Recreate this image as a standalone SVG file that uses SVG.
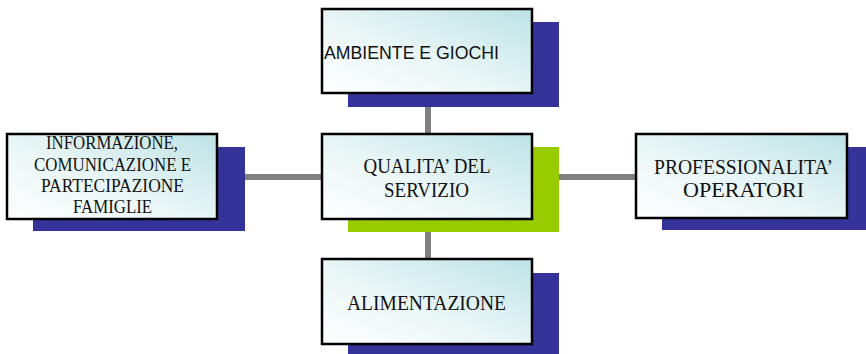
<svg xmlns="http://www.w3.org/2000/svg" width="866" height="354" viewBox="0 0 866 354">
<defs>
<linearGradient id="boxfill" x1="0" y1="1" x2="1" y2="0">
<stop offset="0" stop-color="#ffffff"/>
<stop offset="0.45" stop-color="#eaf6f7"/>
<stop offset="1" stop-color="#bde2e5"/>
</linearGradient>
<style>
.box{fill:url(#boxfill);stroke:#000;stroke-width:2.5}
.sh{fill:#333399}
.shg{fill:#99cc00}
.conn{stroke:#808080;stroke-width:6;fill:none}
.t{font-family:"Liberation Serif","Times New Roman",serif;font-size:22px;fill:#111;text-anchor:middle}
.tr{font-family:"Liberation Serif","Times New Roman",serif;font-size:20px;fill:#111;text-anchor:middle}
.ts{font-family:"Liberation Serif","Times New Roman",serif;font-size:18.5px;fill:#111;text-anchor:middle}
.tsans{font-family:"Liberation Sans",Arial,sans-serif;font-size:17.6px;fill:#111}
</style>
</defs>
<rect width="866" height="354" fill="#ffffff"/>
<g id="connectors">
<line class="conn" x1="428" y1="92" x2="428" y2="260"/>
<line class="conn" x1="217" y1="177" x2="637" y2="177"/>
</g>
<g id="node-ambiente">
<rect class="sh" x="348" y="22" width="211" height="85"/>
<rect class="box" x="322" y="9" width="210" height="84"/>
<text class="tsans" x="324" y="59" textLength="175" lengthAdjust="spacingAndGlyphs">AMBIENTE E GIOCHI</text>
</g>
<g id="node-informazione">
<rect class="sh" x="33" y="147" width="212" height="84"/>
<rect class="box" x="7" y="134" width="210" height="85"/>
<text class="ts" x="112" y="149" textLength="132" lengthAdjust="spacingAndGlyphs">INFORMAZIONE,</text>
<text class="ts" x="112.5" y="170.5" textLength="157" lengthAdjust="spacingAndGlyphs">COMUNICAZIONE E</text>
<text class="ts" x="112.5" y="191.5" textLength="143" lengthAdjust="spacingAndGlyphs">PARTECIPAZIONE</text>
<text class="ts" x="112.5" y="212.5" textLength="79" lengthAdjust="spacingAndGlyphs">FAMIGLIE</text>
</g>
<g id="node-qualita">
<rect class="shg" x="348" y="147" width="211" height="85"/>
<rect class="box" x="322" y="134" width="210" height="85"/>
<text class="t" x="427" y="172.5" textLength="127" lengthAdjust="spacingAndGlyphs">QUALITA’ DEL</text>
<text class="t" x="426.5" y="197" textLength="85" lengthAdjust="spacingAndGlyphs">SERVIZIO</text>
</g>
<g id="node-professionalita">
<rect class="sh" x="662" y="147" width="211" height="83"/>
<rect class="box" x="636" y="134" width="211" height="84"/>
<text class="tr" x="743.5" y="174" textLength="179" lengthAdjust="spacingAndGlyphs">PROFESSIONALITA’</text>
<text class="tr" x="743.5" y="196.5" textLength="121" lengthAdjust="spacingAndGlyphs">OPERATORI</text>
</g>
<g id="node-alimentazione">
<rect class="sh" x="348" y="273" width="211" height="90"/>
<rect class="box" x="322" y="259" width="210" height="85"/>
<text class="t" x="426.5" y="310" textLength="159" lengthAdjust="spacingAndGlyphs">ALIMENTAZIONE</text>
</g>
</svg>
